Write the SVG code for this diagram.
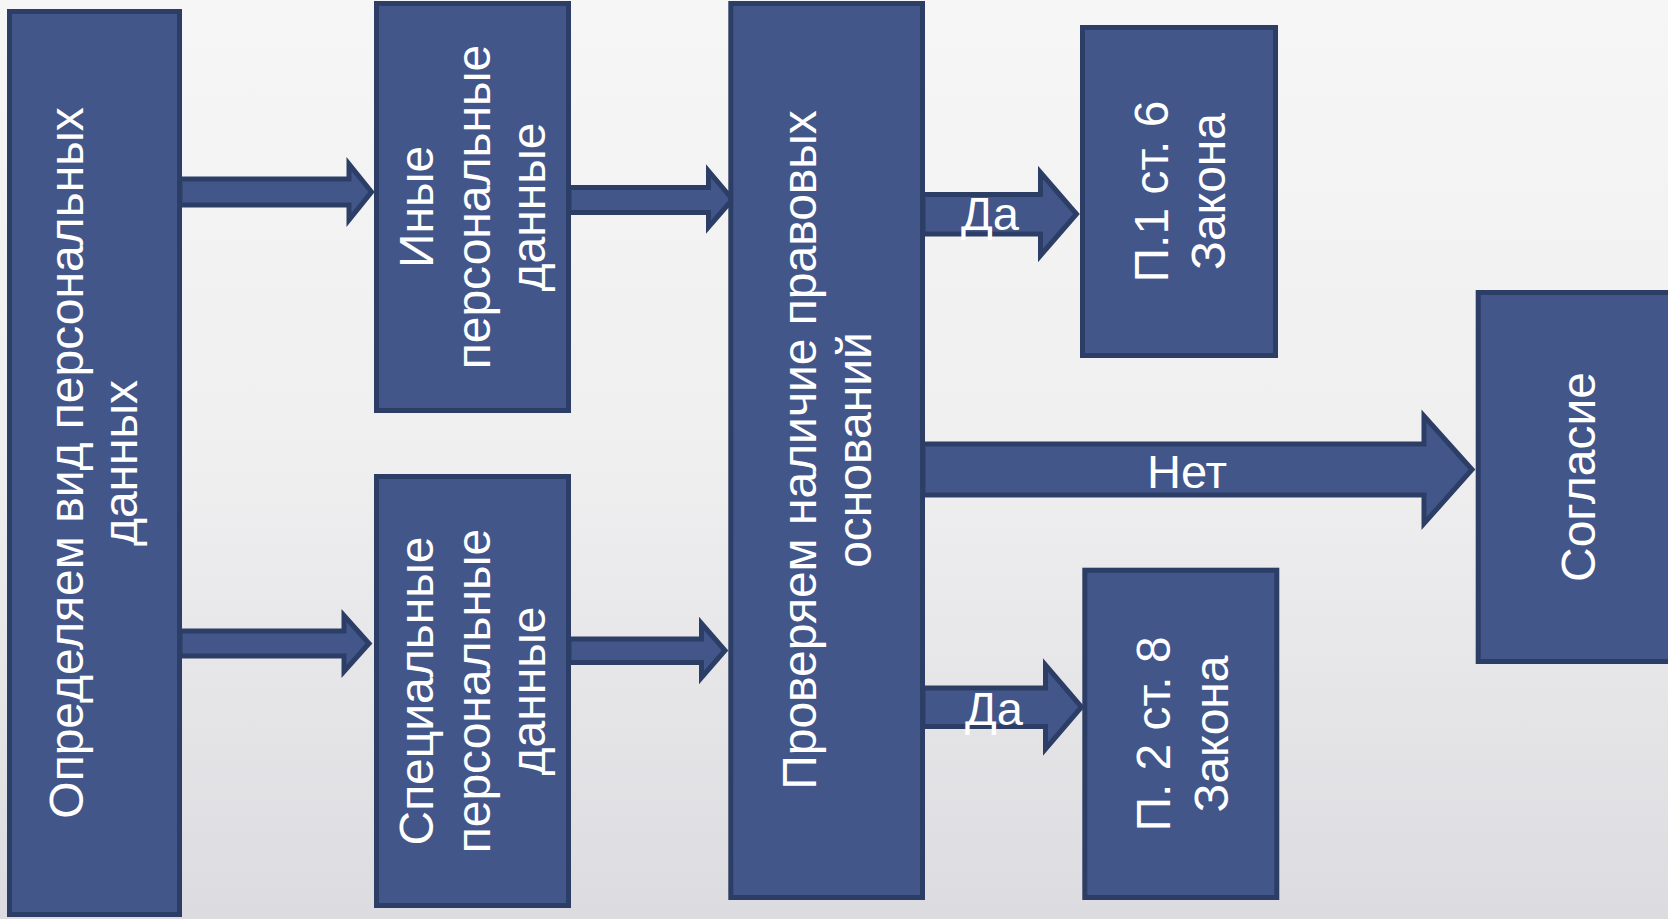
<svg xmlns="http://www.w3.org/2000/svg" width="1668" height="919" viewBox="0 0 1668 919">
<defs>
<linearGradient id="bg" x1="0" y1="0" x2="0" y2="1">
<stop offset="0" stop-color="#f6f6f6"/>
<stop offset="0.5" stop-color="#efeff0"/>
<stop offset="1" stop-color="#dcdce0"/>
</linearGradient>
</defs>
<style>
.box{fill:#42568a;stroke:#2c3e66;stroke-width:5}
.arr{fill:#42568a;stroke:#2c3e66;stroke-width:5;stroke-linejoin:miter}
.t{fill:#ffffff;font-family:"Liberation Sans",Arial,sans-serif;font-size:47px}
.c{text-anchor:middle;font-size:48px}
</style>
<rect x="0" y="0" width="1668" height="919" fill="url(#bg)"/>
<g id="connectors">
<polygon class="arr" points="180,179 349,179 349,164 371.5,192 349,220 349,205 180,205"/>
<polygon class="arr" points="180,631 344,631 344,615.5 369,643.5 344,671.5 344,656 180,656"/>
<polygon class="arr" points="569,187.5 708.5,187.5 708.5,171 732.5,199.5 708.5,227 708.5,212.5 569,212.5"/>
<polygon class="arr" points="569,639 701.5,639 701.5,623.5 725,650.5 701.5,677.5 701.5,662.5 569,662.5"/>
<polygon class="arr" points="923,194.5 1040.5,194.5 1040.5,172.5 1076.5,214 1040.5,255.5 1040.5,234 923,234"/>
<polygon class="arr" points="923,444 1424,444 1424,416 1472,469.5 1424,523.5 1424,495 923,495"/>
<polygon class="arr" points="923,688 1045.5,688 1045.5,665 1081.5,707 1045.5,749 1045.5,726.5 923,726.5"/>
<text class="t" x="961" y="230">Да</text>
<text class="t" x="1147" y="488">Нет</text>
<text class="t" x="965" y="725">Да</text>
</g>
<g id="node-opredelyaem">
<rect class="box" x="9.5" y="11.5" width="170" height="903"/>
<text class="t c" transform="rotate(-90)"><tspan x="-463" y="83">Определяем вид персональных</tspan><tspan x="-463" y="137">данных</tspan></text>
</g>
<g id="node-inye">
<rect class="box" x="376.5" y="3.5" width="192" height="407"/>
<text class="t c" transform="rotate(-90)"><tspan x="-207" y="433">Иные</tspan><tspan x="-207" y="490">персональные</tspan><tspan x="-207" y="545">данные</tspan></text>
</g>
<g id="node-special">
<rect class="box" x="376.5" y="476.5" width="192" height="429"/>
<text class="t c" transform="rotate(-90)"><tspan x="-691" y="433">Специальные</tspan><tspan x="-691" y="490">персональные</tspan><tspan x="-691" y="545">данные</tspan></text>
</g>
<g id="node-proveryaem">
<rect class="box" x="730.8" y="3.5" width="191.7" height="894"/>
<text class="t c" transform="rotate(-90)"><tspan x="-450" y="816">Проверяем наличие правовых</tspan><tspan x="-450" y="871">оснований</tspan></text>
</g>
<g id="node-p1st6">
<rect class="box" x="1082.5" y="27.5" width="193" height="328"/>
<text class="t c" transform="rotate(-90)"><tspan x="-191.5" y="1168">П.1 ст. 6</tspan><tspan x="-191.5" y="1225">Закона</tspan></text>
</g>
<g id="node-p2st8">
<rect class="box" x="1084.8" y="570.2" width="192" height="327.3"/>
<text class="t c" transform="rotate(-90)"><tspan x="-734" y="1170">П. 2 ст. 8</tspan><tspan x="-734" y="1228">Закона</tspan></text>
</g>
<g id="node-soglasie">
<rect class="box" x="1478.2" y="292.5" width="200" height="369"/>
<text class="t c" transform="rotate(-90)"><tspan x="-477" y="1595">Согласие</tspan></text>
</g>
</svg>
